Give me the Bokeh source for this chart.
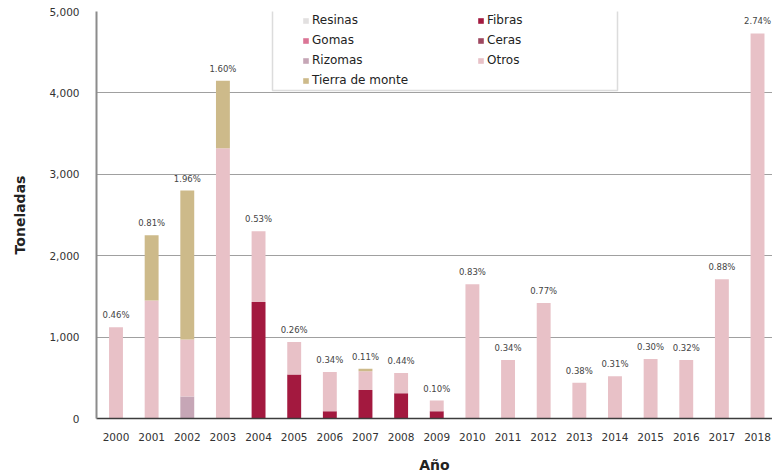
from bokeh.plotting import figure
from bokeh.models import (Range1d, Legend, LegendItem, NumeralTickFormatter,
                          FixedTicker, BoxAnnotation, ColumnDataSource)
from bokeh.core.properties import value
from bokeh.embed import file_html
from bokeh.resources import INLINE

# ---------------- data ----------------
years = list(range(2000, 2019))
resinas = [0] * 19
fibras = [0, 0, 0, 0, 1430, 540, 90, 350, 310, 90, 0, 0, 0, 0, 0, 0, 0, 0, 0]
gomas = [0] * 19
ceras = [0] * 19
rizomas = [0, 0, 270, 0, 0, 0, 0, 0, 0, 0, 0, 0, 0, 0, 0, 0, 0, 0, 0]
otros = [1120, 1450, 700, 3320, 870, 400, 480, 230, 250, 130,
         1650, 720, 1420, 440, 520, 730, 720, 1710, 4730]
tierra = [0, 800, 1830, 830, 0, 0, 0, 30, 0, 0, 0, 0, 0, 0, 0, 0, 0, 0, 0]
pct_labels = ["0.46%", "0.81%", "1.96%", "1.60%", "0.53%", "0.26%", "0.34%",
              "0.11%", "0.44%", "0.10%", "0.83%", "0.34%", "0.77%", "0.38%",
              "0.31%", "0.30%", "0.32%", "0.88%", "2.74%"]
y_ticks = [0, 1000, 2000, 3000, 4000, 5000]

series = ["Resinas", "Fibras", "Gomas", "Ceras", "Rizomas", "Otros", "Tierra de monte"]
colors = ["#E2E0E0", "#A3193F", "#DB7596", "#9E4860", "#C6A6B6", "#E8C1C7", "#CDBA8A"]

FONT = "DejaVu Sans"

data = dict(year=years, Resinas=resinas, Fibras=fibras, Gomas=gomas, Ceras=ceras,
            Rizomas=rizomas, Otros=otros)
data["Tierra de monte"] = tierra
totals = [sum(v) for v in zip(resinas, fibras, gomas, ceras, rizomas, otros, tierra)]
data["total"] = totals
data["pct"] = pct_labels
src = ColumnDataSource(data)

p = figure(width=772, height=475, output_backend="svg", toolbar_location=None,
           x_range=Range1d(1999.453, 2018.42), y_range=Range1d(0, 5000),
           min_border_left=96, min_border_right=0, min_border_top=11,
           min_border_bottom=56)
p.outline_line_color = None

renderers = p.vbar_stack(series, x="year", width=0.39, source=src,
                         color=colors, line_color=None)

p.text(x="year", y="total", text="pct", source=src, text_align="center",
       text_baseline="bottom", y_offset=-7, text_font=value(FONT),
       text_font_size="8.5px", text_color="#444444")

# axes
p.xaxis.ticker = FixedTicker(ticks=years)
p.xaxis.major_tick_line_color = None
p.xaxis.minor_tick_line_color = None
p.xaxis.axis_line_color = "#3c3c3c"
p.xaxis.axis_line_width = 1.5
p.xaxis.major_label_text_font = FONT
p.xaxis.major_label_text_font_size = "10.5px"
p.xaxis.major_label_text_color = "#333333"
p.xaxis.major_label_standoff = 8
p.xaxis.axis_label = "Año"
p.xaxis.axis_label_text_font = FONT
p.xaxis.axis_label_text_font_style = "bold"
p.xaxis.axis_label_text_font_size = "14px"
p.xaxis.axis_label_text_color = "#222222"
p.xaxis.axis_label_standoff = 13

p.yaxis.ticker = FixedTicker(ticks=y_ticks)
p.yaxis.formatter = NumeralTickFormatter(format="0,0")
p.yaxis.major_tick_line_color = None
p.yaxis.minor_tick_line_color = None
p.yaxis.axis_line_color = "#8c8c8c"
p.yaxis.axis_line_width = 2
p.yaxis.major_label_text_font = FONT
p.yaxis.major_label_text_font_size = "10.5px"
p.yaxis.major_label_text_color = "#333333"
p.yaxis.major_label_standoff = 11
p.yaxis.axis_label = "Toneladas"
p.yaxis.axis_label_text_font = FONT
p.yaxis.axis_label_text_font_style = "bold"
p.yaxis.axis_label_text_font_size = "14px"
p.yaxis.axis_label_text_color = "#222222"
p.yaxis.axis_label_standoff = 18

p.xgrid.grid_line_color = None
p.ygrid.grid_line_color = "#a0a0a0"
p.ygrid.grid_line_width = 1

# legend frame (screen units relative to the plot frame)
box = BoxAnnotation(left=176, right=521, top=410, bottom=328,
                    left_units="screen", right_units="screen",
                    top_units="screen", bottom_units="screen",
                    fill_alpha=0, line_color="#8a8a8a", line_width=1.5)
p.add_layout(box)

order = [0, 2, 4, 6, 1, 3, 5]
items = [LegendItem(label=series[i], renderers=[renderers[i]]) for i in order]
legend = Legend(items=items, location=(206, 328), orientation="vertical",
                nrows=4, ncols=2, padding=0, spacing=0, margin=0,
                glyph_width=7, glyph_height=7, label_standoff=3,
                label_width=165, label_height=20,
                label_text_font=FONT, label_text_font_size="12px",
                label_text_color="#222222",
                border_line_alpha=0, background_fill_alpha=0)
p.add_layout(legend, "center")

open("out.html", "w").write(file_html(p, INLINE))
